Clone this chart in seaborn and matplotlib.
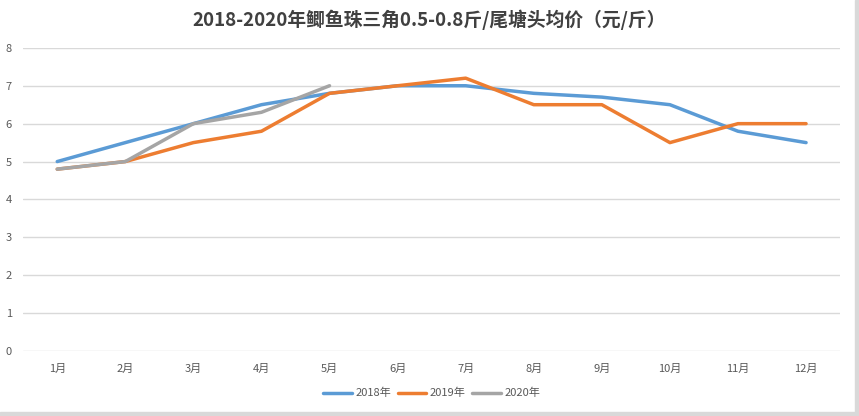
import seaborn as sns
import matplotlib.pyplot as plt
import pandas as pd

months = ['1月', '2月', '3月', '4月', '5月', '6月', '7月', '8月', '9月', '10月', '11月', '12月']
price_2018 = [5.0, 5.5, 6.0, 6.5, 6.8, 7.0, 7.0, 6.8, 6.7, 6.5, 5.8, 5.5]
price_2019 = [4.8, 5.0, 5.5, 5.8, 6.8, 7.0, 7.2, 6.5, 6.5, 5.5, 6.0, 6.0]
price_2020 = [4.8, 5.0, 6.0, 6.3, 7.0]

rows = []
for year, vals in [('2018年', price_2018), ('2019年', price_2019), ('2020年', price_2020)]:
    for m, v in zip(months, vals):
        rows.append({'month': m, 'price': v, 'year': year})
df = pd.DataFrame(rows)
df['month'] = pd.Categorical(df['month'], categories=months, ordered=True)
df['x'] = df['month'].cat.codes

sns.set_style('white')
plt.rcParams['font.family'] = ['Noto Sans CJK SC', 'DejaVu Sans']

fig = plt.figure(figsize=(8.59, 4.16), dpi=100)
ax = fig.add_axes([0.027, 0.156, 0.951, 0.729])

palette = {'2018年': '#5B9BD5', '2019年': '#ED7D31', '2020年': '#A5A5A5'}
sns.lineplot(data=df, x='x', y='price', hue='year', palette=palette, linewidth=2.5, ax=ax, sort=False)

ax.set_xlim(-0.5, 11.5)
ax.set_ylim(0, 8)
ax.set_xticks(range(12))
ax.set_xticklabels(months)
ax.set_yticks(range(9))
ax.tick_params(axis='both', length=0, labelsize=8, colors='#595959')
ax.tick_params(axis='x', pad=9)
ax.tick_params(axis='y', pad=8)
ax.grid(axis='y', color='#D9D9D9', linewidth=1)
ax.set_axisbelow(True)
for s in ax.spines.values():
    s.set_visible(False)
ax.set_xlabel('')
ax.set_ylabel('')

fig.text(0.5, 0.952, '2018-2020年鲫鱼珠三角0.5-0.8斤/尾塘头均价（元/斤）',
         ha='center', va='center', fontsize=13.5, color='#404040', fontweight='bold')

handles, labels = ax.get_legend_handles_labels()
ax.legend(handles, labels, loc='center', bbox_to_anchor=(0.5, -0.139), ncol=3, frameon=False,
          fontsize=8, handlelength=2.6, columnspacing=0.6, handletextpad=0.3,
          labelcolor='#595959')

fig.patches.append(plt.Rectangle((0.995, 0.0), 0.005, 1.0, transform=fig.transFigure,
                                 color='#D9D9D9', zorder=0))
fig.patches.append(plt.Rectangle((0.0, 0.0), 1.0, 0.01, transform=fig.transFigure,
                                 color='#D9D9D9', zorder=0))

fig.savefig('out.png', dpi=100)
